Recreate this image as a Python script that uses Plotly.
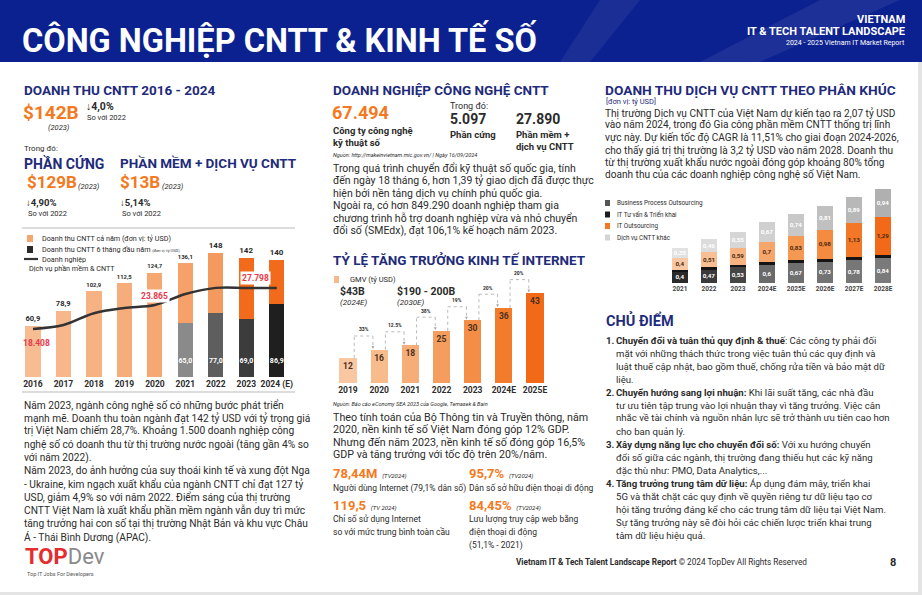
import plotly.graph_objects as go

W, H = 922, 595
FONT = "Roboto"
NAVY = "#1f2b7b"
ORANGE = "#f47920"
DARK = "#2b2b2b"
RED = "#e8394a"

# ---------------- data ----------------
rev_years = ["2016", "2017", "2018", "2019", "2020", "2021", "2022", "2023", "2024 (E)"]
rev_full = [60.9, 78.9, 102.9, 112.5, 124.7, 136.1, 148, 142, 140]
rev_half = [None, None, None, None, None, 65.0, 77.0, 69.0, 86.9]
firms = [18408, 19300, 22000, 23200, 23865, 26400, 27798, 27798, 27798]
firm_labels = {0: "18.408", 4: "23.865", 7: "27.798"}

gmv_years = ["2019", "2020", "2021", "2022", "2023", "2024E", "2025E"]
gmv = [12, 16, 18, 25, 30, 36, 43]
gmv_growth = ["33%", "12.5%", "38%", "19%", "20%", "20%"]

seg_years = ["2021", "2022", "2023", "2024E", "2025E", "2026E", "2027E", "2028E"]
seg_bpo = [0.4, 0.47, 0.53, 0.6, 0.67, 0.73, 0.78, 0.84]
seg_consult = [0.05, 0.06, 0.08, 0.1, 0.1, 0.1, 0.12, 0.12]
seg_ito = [0.4, 0.51, 0.59, 0.7, 0.83, 0.98, 1.13, 1.29]
seg_other = [0.35, 0.46, 0.55, 0.67, 0.74, 0.81, 0.89, 0.94]
seg_names = ["Business Process Outsourcing", "IT Tư vấn & Triển khai", "IT Outsourcing", "Dịch vụ CNTT khác"]


def vn(v, fmt="{:g}"):
    return fmt.format(v).replace(".", ",")


def X(p):
    return p / W


def Y(p):
    return 1 - p / H


ann = []
shapes = []


def txt(x, y, text, size, color=DARK, anchor="left", family=FONT, bg=None):
    d = dict(x=X(x), y=Y(y), xref="paper", yref="paper", text=text, showarrow=False,
             xanchor=anchor, yanchor="middle", font=dict(size=size, color=color, family=family),
             borderpad=0)
    if bg:
        d["bgcolor"] = bg
    ann.append(d)


def block(x, y0, dy, lines, size, color=DARK):
    for i, l in enumerate(lines):
        txt(x, y0 + i * dy, l, size, color)


def rect(x0, y0, x1, y1, color):
    shapes.append(dict(type="rect", xref="paper", yref="paper", x0=X(x0), x1=X(x1), y0=Y(y1), y1=Y(y0),
                       fillcolor=color, line=dict(width=0), layer="below"))


def hline(x0, x1, y, color, width=1.0):
    shapes.append(dict(type="line", xref="paper", yref="paper", x0=X(x0), x1=X(x1), y0=Y(y), y1=Y(y),
                       line=dict(color=color, width=width)))


# ---------------- header ----------------
rect(0, 0, W, 62, "#0c2190")
shapes.append(dict(type="path", xref="paper", yref="paper", layer="below",
                   path=f"M {X(600)} {Y(0)} L {X(640)} {Y(0)} L {X(590)} {Y(62)} L {X(560)} {Y(62)} Z",
                   fillcolor="rgba(255,255,255,0.06)", line=dict(width=0)))
shapes.append(dict(type="path", xref="paper", yref="paper", layer="below",
                   path=f"M {X(820)} {Y(0)} L {X(900)} {Y(0)} L {X(760)} {Y(62)} L {X(700)} {Y(62)} Z",
                   fillcolor="rgba(255,255,255,0.07)", line=dict(width=0)))
txt(21, 40, "<b>CÔNG NGHIỆP CNTT & KINH TẾ SỐ</b>", 32.5, "white")
txt(906, 19, "<b>VIETNAM</b>", 11, "white", anchor="right")
txt(906, 31, "<b>IT & TECH TALENT LANDSCAPE</b>", 11, "white", anchor="right")
txt(906, 43, "2024 - 2025 Vietnam IT Market Report", 7, "white", anchor="right")

# page border
rect(918, 62, 922, 595, "#e4e4e4")
rect(0, 592, 922, 595, "#e4e4e4")

# ---------------- left column ----------------
txt(23, 90, "<b>DOANH THU CNTT 2016 - 2024</b>", 13.5, NAVY)
txt(22, 112, "<b>$142B</b>", 19, ORANGE)
txt(47, 127, "<i>(2023)</i>", 7.5, DARK)
txt(85, 106, "<b>↓4,0%</b>", 10.5, DARK)
txt(86, 118, "So với 2022", 7.5, DARK)
txt(23, 148, "Trong đó:", 8, DARK)
txt(23, 163, "<b>PHẦN CỨNG</b>", 14, NAVY)
txt(119, 163, "<b>PHẦN MỀM + DỊCH VỤ CNTT</b>", 13.5, NAVY)
txt(26, 182, "<b>$129B</b>", 17, ORANGE)
txt(77, 186, "<i>(2023)</i>", 7.5, DARK)
txt(119, 182, "<b>$13B</b>", 17, ORANGE)
txt(161, 186, "<i>(2023)</i>", 7.5, DARK)
txt(25, 202, "<b>↓4,90%</b>", 9.5, DARK)
txt(27, 213, "So với 2022", 7.5, DARK)
txt(119, 202, "<b>↓5,14%</b>", 9.5, DARK)
txt(121, 213, "So với 2022", 7.5, DARK)

hline(22, 295, 228, "#d0d0d0", 1.5)
hline(22, 295, 392, "#d0d0d0", 1.5)

# legend of left chart
rect(27, 235, 33, 242, "#f5a66e")
rect(27, 246, 33, 253, "#2a2a2a")
hline(24, 38, 259, "#333333", 2.2)
txt(41, 238, "Doanh thu CNTT cả năm (đơn vị: tỷ USD)", 7.2, DARK)
txt(41, 249, "Doanh thu CNTT 6 tháng đầu năm <span style='font-size:4px'>(đơn vị: tỷ USD)</span>", 7.2, DARK)
txt(41, 259, "Doanh nghiệp", 7.2, DARK)
txt(28, 268, "Dịch vụ phần mềm & CNTT", 7.2, DARK)

left_par = [
    "Năm 2023, ngành công nghệ số có những bước phát triển",
    "mạnh mẽ. Doanh thu toàn ngành đạt 142 tỷ USD với tỷ trọng giá",
    "trị Việt Nam chiếm 28,7%. Khoảng 1.500 doanh nghiệp công",
    "nghệ số có doanh thu từ thị trường nước ngoài (tăng gần 4% so",
    "với năm 2022).",
    "Năm 2023, do ảnh hưởng của suy thoái kinh tế và xung đột Nga",
    "- Ukraine, kim ngạch xuất khẩu của ngành CNTT chỉ đạt 127 tỷ",
    "USD, giảm 4,9% so với năm 2022. Điểm sáng của thị trường",
    "CNTT Việt Nam là xuất khẩu phần mềm ngành vẫn duy trì mức",
    "tăng trưởng hai con số tại thị trường Nhật Bản và khu vực Châu",
    "Á - Thái Bình Dương (APAC).",
]
block(23, 405, 13.2, left_par, 10.2)

txt(24, 556, "<b><span style='color:#e52d2d'>T</span><span style='color:#e52d2d'>O</span>"
             "<span style='color:#e52d2d'>P</span></b><span style='color:#8a8a8a'>Dev</span>", 22, DARK)
txt(26, 574, "Top IT Jobs For Developers", 5.5, "#555555")

# ---------------- middle column ----------------
txt(332, 90, "<b>DOANH NGHIỆP CÔNG NGHỆ CNTT</b>", 13.5, NAVY)
txt(331, 112, "<b>67.494</b>", 18, ORANGE)
txt(332, 130, "<b>Công ty công nghệ</b>", 9.5, DARK)
txt(332, 142, "<b>kỹ thuật số</b>", 9.5, DARK)
txt(449, 106, "Trong đó:", 9, DARK)
txt(449, 119, "<b>5.097</b>", 14, DARK)
txt(515, 119, "<b>27.890</b>", 14, DARK)
txt(449, 134, "<b>Phần cứng</b>", 9.5, DARK)
txt(515, 134, "<b>Phần mềm +</b>", 9.5, DARK)
txt(515, 146, "<b>dịch vụ CNTT</b>", 9.5, DARK)
txt(332, 155, "<i>Nguồn: http://makeinvietnam.mic.gov.vn/ | Ngày 16/09/2024</i>", 5.5, DARK)
mid_par1 = [
    "Trong quá trình chuyển đổi kỹ thuật số quốc gia, tính",
    "đến ngày 18 tháng 6, hơn 1,39 tỷ giao dịch đã được thực",
    "hiện bởi nền tảng dịch vụ chính phủ quốc gia.",
    "Ngoài ra, có hơn 849.290 doanh nghiệp tham gia",
    "chương trình hỗ trợ doanh nghiệp vừa và nhỏ chuyển",
    "đổi số (SMEdx), đạt 106,1% kế hoạch năm 2023.",
]
block(332, 168, 12.6, mid_par1, 10.5)

txt(332, 260, "<b>TỶ LỆ TĂNG TRƯỞNG KINH TẾ INTERNET</b>", 13.5, NAVY)
rect(334, 276, 339, 283, "#f7b98c")
txt(349, 279, "GMV (tỷ USD)", 7.5, DARK)
txt(339, 291, "<b>$43B</b>", 10.5, DARK)
txt(339, 302, "<i>(2024E)</i>", 8, DARK)
txt(396, 291, "<b>$190 - 200B</b>", 10.5, DARK)
txt(396, 302, "<i>(2030E)</i>", 8, DARK)

txt(332, 404, "<i>Nguồn: Báo cáo eConomy SEA 2023 của Google, Temasek & Bain</i>", 5.5, DARK)
mid_par2 = [
    "Theo tính toán của Bộ Thông tin và Truyền thông, năm",
    "2020, nền kinh tế số Việt Nam đóng góp 12% GDP.",
    "Nhưng đến năm 2023, nền kinh tế số đóng góp 16,5%",
    "GDP và tăng trưởng với tốc độ trên 20%/năm.",
]
block(332, 417, 12.6, mid_par2, 10.7)

small = "<i><span style='font-size:6px;color:#2b2b2b'> {}</span></i>"
txt(332, 474, "<b>78,44M</b> " + small.format("(TV2024)"), 13, ORANGE)
txt(332, 488, "Người dùng Internet (79,1% dân số)", 8.5, DARK)
txt(468, 474, "<b>95,7%</b> " + small.format("(TV2024)"), 13, ORANGE)
txt(468, 488, "Dân số sở hữu điện thoại di động", 8.5, DARK)
txt(332, 505, "<b>119,5</b> " + small.format("(TV 2024)"), 13, ORANGE)
txt(332, 519, "Chỉ số sử dụng Internet", 8.5, DARK)
txt(332, 532, "so với mức trung bình toàn cầu", 8.5, DARK)
txt(468, 505, "<b>84,45%</b> " + small.format("(TV2024)"), 13, ORANGE)
txt(468, 519, "Lưu lượng truy cập web bằng", 8.5, DARK)
txt(468, 532, "điện thoại di động", 8.5, DARK)
txt(468, 545, "(51,1% - 2021)", 8.5, DARK)

# ---------------- right column ----------------
txt(604, 90, "<b>DOANH THU DỊCH VỤ CNTT THEO PHÂN KHÚC</b>", 13.7, NAVY)
txt(605, 101, "[đơn vị: tỷ USD]", 7.5, NAVY)
right_par = [
    "Thị trường Dịch vụ CNTT của Việt Nam dự kiến tạo ra 2,07 tỷ USD",
    "vào năm 2024, trong đó Gia công phần mềm CNTT thống trị lĩnh",
    "vực này. Dự kiến tốc độ CAGR là 11,51% cho giai đoạn 2024-2026,",
    "cho thấy giá trị thị trường là 3,2 tỷ USD vào năm 2028. Doanh thu",
    "từ thị trường xuất khẩu nước ngoài đóng góp khoảng 80% tổng",
    "doanh thu của các doanh nghiệp công nghệ số Việt Nam.",
]
block(604, 113, 12.4, right_par, 10.1)

leg_cols = ["#555555", "#1e1e1e", "#f47920", "#d4d4d4"]
for i, (nm, c) in enumerate(zip(seg_names, leg_cols)):
    yy = 203 + i * 11.5
    rect(605, yy - 3, 610, yy + 3, c)
    txt(616, yy, nm, 6.3, DARK)

txt(605, 320, "<b>CHỦ ĐIỂM</b>", 14.5, NAVY)
chu = [
    ("1.", "<b>Chuyển đổi và tuân thủ quy định & thuế</b>: Các công ty phải đối"),
    ("", "mặt với những thách thức trong việc tuân thủ các quy định và"),
    ("", "luật thuế cập nhật, bao gồm thuế, chống rửa tiền và bảo mật dữ"),
    ("", "liệu."),
    ("2.", "<b>Chuyển hướng sang lợi nhuận:</b> Khi lãi suất tăng, các nhà đầu"),
    ("", "tư ưu tiên tập trung vào lợi nhuận thay vì tăng trưởng. Việc cân"),
    ("", "nhắc về tài chính và nguồn nhân lực sẽ trở thành ưu tiên cao hơn"),
    ("", "cho ban quản lý."),
    ("3.", "<b>Xây dựng năng lực cho chuyển đổi số:</b> Với xu hướng chuyển"),
    ("", "đổi số giữa các ngành, thị trường đang thiếu hụt các kỹ năng"),
    ("", "đặc thù như: PMO, Data Analytics,..."),
    ("4.", "<b>Tăng trưởng trung tâm dữ liệu:</b> Áp dụng đám mây, triển khai"),
    ("", "5G và thắt chặt các quy định về quyền riêng tư dữ liệu tạo cơ"),
    ("", "hội tăng trưởng đáng kể cho các trung tâm dữ liệu tại Việt Nam."),
    ("", "Sự tăng trưởng này sẽ đòi hỏi các chiến lược triển khai trung"),
    ("", "tâm dữ liệu hiệu quả."),
]
for i, (num, line) in enumerate(chu):
    yy = 340 + i * 13.0
    if num:
        txt(605, yy, f"<b>{num}</b>", 9.6, DARK)
    txt(615, yy, line, 9.6, DARK)

txt(515, 562, "<b>Vietnam IT & Tech Talent Landscape Report</b> © 2024 TopDev All Rights Reserved", 8.2, DARK)
txt(893, 562, "<b>8</b>", 11, DARK, anchor="center")

# ---------------- charts ----------------
fig = go.Figure()

# left chart: revenue bars (stacked: first-half part + remainder) and firms line
full_cols = ["#f8bc93", "#f8b78b", "#f7b283", "#f7ad7b", "#f6a873", "#f6a169", "#f59a5e", "#f26b1d", "#f26b1d"]
half_cols_all = ["#000", "#000", "#000", "#000", "#000", "#8a8a8a", "#5e5e5e", "#3c3c3c", "#1f1f1f"]
half_idx = [i for i, h in enumerate(rev_half) if h is not None]
fig.add_trace(go.Bar(
    x=[rev_years[i] for i in half_idx], y=[rev_half[i] for i in half_idx], xaxis="x", yaxis="y", width=0.5,
    marker=dict(color=[half_cols_all[i] for i in half_idx], line=dict(width=0)),
    text=[f"<b>{vn(rev_half[i], '{:.1f}')}</b><br> " for i in half_idx], textposition="inside",
    insidetextanchor="start", textangle=0, constraintext="none",
    textfont=dict(color="white", size=7, family=FONT), hoverinfo="skip"))
fig.add_trace(go.Bar(
    x=rev_years, y=[f - (h or 0) for f, h in zip(rev_full, rev_half)], xaxis="x", yaxis="y", width=0.5,
    marker=dict(color=full_cols, line=dict(width=0)),
    text=[f"<b>{vn(v)}</b>" for v in rev_full], textposition="outside", textangle=0, cliponaxis=False,
    textfont=dict(color=DARK, size=8, family=FONT), hoverinfo="skip"))
fig.add_trace(go.Scatter(
    x=rev_years, y=firms, xaxis="x4", yaxis="y5", mode="lines",
    line=dict(color="#333333", width=2.5, shape="spline"), hoverinfo="skip"))
lab_shift = {0: (4, -14, None), 4: (0, 9, "white"), 7: (9, 10, "white")}
for i, s in firm_labels.items():
    dx, dy, bg = lab_shift[i]
    a = dict(x=i, y=firms[i], xref="x4", yref="y5", text=f"<b>{s}</b>", showarrow=False,
             xshift=dx, yshift=dy, font=dict(color=RED, size=8.5, family=FONT), borderpad=1)
    if bg:
        a["bgcolor"] = bg
    ann.append(a)

# middle chart
gmv_cols = ["#f9c7a2", "#f8bb8c", "#f7ad77", "#f59d5f", "#f48d45", "#f37c2c", "#f26a18"]
fig.add_trace(go.Bar(
    x=gmv_years, y=gmv, xaxis="x2", yaxis="y3", width=0.55, marker=dict(color=gmv_cols, line=dict(width=0)),
    text=[f"<b>{v}</b>" for v in gmv], textposition="inside", insidetextanchor="end", textangle=0,
    constraintext="none", textfont=dict(color="#4a3020", size=8.5, family=FONT), hoverinfo="skip"))
for i, g in enumerate(gmv_growth):
    lvl = gmv[i + 1] + 6.5
    xa, xb = i + 0.2, i + 1 - 0.2
    for (x0, y0, x1, y1) in [(xa, gmv[i], xa, lvl), (xa, lvl, xb, lvl), (xb, lvl, xb, gmv[i + 1] + 0.6)]:
        shapes.append(dict(type="line", xref="x2", yref="y3", x0=x0, y0=y0, x1=x1, y1=y1,
                           line=dict(color="#a8a8a8", width=0.8, dash="dot")))
    ann.append(dict(x=xb, y=gmv[i + 1] + 0.4, ax=xb, ay=gmv[i + 1] + 2.2, xref="x2", yref="y3",
                    axref="x2", ayref="y3", text="", showarrow=True, arrowhead=2, arrowsize=0.7,
                    arrowwidth=0.8, arrowcolor="#a8a8a8"))
    ann.append(dict(x=i + 0.5, y=lvl + 3.2, xref="x2", yref="y3", text=f"<b>{g}</b>", showarrow=False,
                    font=dict(size=5, color=DARK, family=FONT)))

# right chart
bpo_cols = ["#2a2a2a", "#3a3a3a", "#454545", "#6a6a6a", "#6f6f6f", "#737373", "#777777", "#7a7a7a"]
ito_cols = ["#f9c9a6", "#f8bf94", "#f7b482", "#f6a66b", "#f59852", "#f48b40", "#f27828", "#f26a18"]
oth_cols = ["#e2e2e2", "#dcdcdc", "#d6d6d6", "#d0d0d0", "#c8c8c8", "#c0c0c0", "#b8b8b8", "#b0b0b0"]
for vals, cols, tcol, show in [(seg_bpo, bpo_cols, "white", True), (seg_consult, ["#151515"] * 8, "white", False),
                               (seg_ito, ito_cols, "#4a2a10", True), (seg_other, oth_cols, "white", True)]:
    kw = dict(text=[f"<b>{vn(v)}</b>" for v in vals], textposition="inside", insidetextanchor="middle",
              textangle=0, constraintext="none",
              textfont=dict(color=tcol, size=6.2, family=FONT)) if show else dict(textposition="none")
    fig.add_trace(go.Bar(
        x=seg_years, y=vals, xaxis="x3", yaxis="y4", width=0.54, marker=dict(color=cols, line=dict(width=0)),
        hoverinfo="skip", **kw))

axis_common = dict(showgrid=False, zeroline=False, showline=False, ticks="", fixedrange=True)
left_dom = [17.75 / W, 292 / W]
left_ydom = [1 - 377 / H, 1 - 235 / H]
fig.update_layout(
    width=W, height=H, margin=dict(l=0, r=0, t=0, b=0), paper_bgcolor="white", plot_bgcolor="rgba(0,0,0,0)",
    barmode="stack", showlegend=False, font=dict(family=FONT, color=DARK),
    xaxis=dict(domain=left_dom, anchor="y", type="category", categoryorder="array", categoryarray=rev_years,
               tickvals=rev_years, ticktext=[f"<b>{t}</b>" for t in rev_years],
               tickfont=dict(size=8.5, color=DARK, family=FONT), **axis_common),
    yaxis=dict(domain=left_ydom, anchor="x", range=[0, 170], visible=False, **axis_common),
    xaxis4=dict(domain=left_dom, anchor="y5", type="category", categoryorder="array", categoryarray=rev_years,
                range=[-0.5, len(rev_years) - 0.5], visible=False, **axis_common),
    yaxis5=dict(domain=left_ydom, anchor="x4", range=[7400, 39900], visible=False, **axis_common),
    xaxis2=dict(domain=[332.4 / W, 550.6 / W], anchor="y3", type="category",
                tickvals=gmv_years, ticktext=[f"<b>{t}</b>" for t in gmv_years],
                tickfont=dict(size=8.5, color=DARK, family=FONT), **axis_common),
    yaxis3=dict(domain=[1 - 383 / H, 1 - 266 / H], anchor="x2", range=[0, 56], visible=False, **axis_common),
    xaxis3=dict(domain=[665.5 / W, 897.5 / W], anchor="y4", type="category",
                tickvals=seg_years, ticktext=[f"<b>{t}</b>" for t in seg_years],
                tickfont=dict(size=6.5, color="#444444", family=FONT), **axis_common),
    yaxis4=dict(domain=[1 - 283 / H, 1 - 183 / H], anchor="x3", range=[0, 3.4], visible=False, **axis_common),
    annotations=ann, shapes=shapes,
)

fig.write_html("out.html", config={"displayModeBar": False},
               post_script="document.body.style.margin='0px';document.body.style.overflow='hidden';")
